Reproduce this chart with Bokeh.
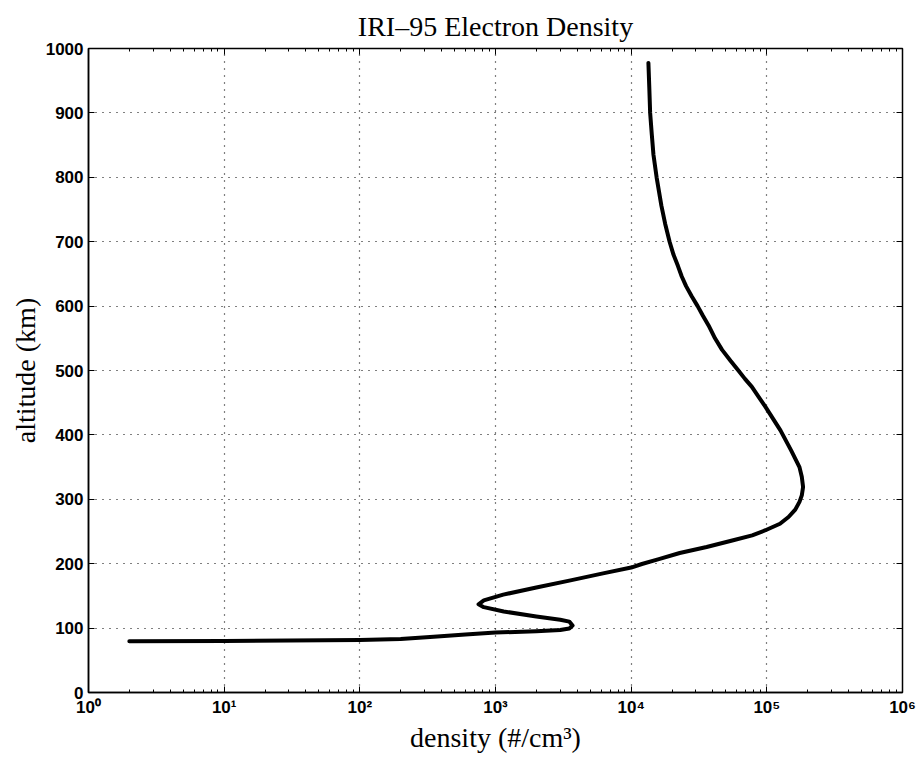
from bokeh.plotting import figure
from bokeh.models import LogAxis, LinearAxis, FixedTicker, Range1d, CustomJSTickFormatter, LogTicker
from bokeh.embed import file_html
from bokeh.resources import INLINE

title_text = "IRI\u201395 Electron Density"
x_label = "density (#/cm\u00b3)"
y_label = "altitude (km)"

density = [2, 10, 100, 200, 350, 600, 1000, 2000, 3000, 3500, 3700, 3500, 3000, 2000,
           1150, 820, 750, 820, 1140, 2000, 3500, 6200, 10000, 12000, 16000, 22800,
           36000, 55600, 78000, 97700, 125000, 144500, 162000, 174000, 181000, 185000,
           181000, 174000, 151000, 126000, 97700, 87000, 77600, 69000, 61700, 54000,
           46800, 41500, 37200, 33800, 30900, 28000, 25400, 23600, 22100, 20500, 19200,
           17800, 16700, 15400, 14600, 14200, 13800, 13600, 13400]
altitude = [79.5, 80, 81.5, 83, 86.5, 90, 93, 95.3, 97, 99.5, 104, 110, 113, 118,
            125.8, 132.5, 137, 143, 152, 163, 173.7, 185, 194, 199.5, 207, 216.6,
            226, 236, 244, 252, 262, 272.5, 284, 296, 306, 319,
            335, 350, 376, 407, 443.5, 459, 474.6, 487, 500, 515,
            532, 550, 570, 585, 600, 615, 631, 646, 662.5, 680, 700,
            728, 756, 800, 835, 866, 900, 940, 977.6]

x_ticks = [1, 10, 100, 1000, 10000, 100000, 1000000]
y_ticks = [0, 100, 200, 300, 400, 500, 600, 700, 800, 900, 1000]

p = figure(width=919, height=757, x_axis_type="log",
           x_range=Range1d(1, 1e6), y_range=Range1d(0, 1000),
           output_backend="svg", toolbar_location=None,
           min_border_left=88, min_border_right=17, min_border_top=48, min_border_bottom=65)

p.title.text = title_text
p.title.align = "center"
p.title.vertical_align = "top"
p.title.text_font = "Liberation Serif"
p.title.text_font_size = "28px"
p.title.text_font_style = "normal"
p.title.text_color = "black"
p.title.standoff = 10

p.background_fill_color = "white"
p.border_fill_color = "white"
p.outline_line_color = "black"
p.outline_line_width = 1.5

sup = CustomJSTickFormatter(code="""
const s = ['\u2070','\u00b9','\u00b2','\u00b3','\u2074','\u2075','\u2076','\u2077','\u2078','\u2079'];
const e = Math.round(Math.log10(tick));
return '10' + s[e];
""")

xa = p.xaxis[0]
xa.ticker = LogTicker(num_minor_ticks=10)
xa.formatter = sup
xa.axis_label = x_label
ya = p.yaxis[0]
ya.ticker = FixedTicker(ticks=y_ticks)
ya.axis_label = y_label

for ax in (xa, ya):
    ax.axis_label_text_font = "Liberation Serif"
    ax.axis_label_text_font_size = "28px"
    ax.axis_label_text_font_style = "normal"
    ax.axis_label_text_color = "black"
    ax.major_label_text_font = "Liberation Sans"
    ax.major_label_text_font_size = "17px"
    ax.major_label_text_font_style = "bold"
    ax.major_label_text_color = "black"
    ax.major_tick_in = 6
    ax.major_tick_out = 0
    ax.major_tick_line_color = "black"
    ax.axis_line_color = "black"
    ax.axis_line_width = 1.5
    ax.axis_label_standoff = 2
    ax.major_label_standoff = 5

xa.minor_tick_in = 3
xa.minor_tick_out = 0
ya.minor_tick_line_color = None

top = LogAxis(ticker=LogTicker(num_minor_ticks=10), major_label_text_font_size="1px",
              major_label_text_alpha=0, major_tick_in=6, major_tick_out=0,
              minor_tick_in=3, minor_tick_out=0, axis_line_color="black",
              major_label_standoff=0)
right = LinearAxis(ticker=FixedTicker(ticks=y_ticks), major_label_text_font_size="1px",
                   major_label_text_alpha=0, major_tick_in=6, major_tick_out=0,
                   minor_tick_line_color=None, axis_line_color="black",
                   major_label_standoff=0)
p.add_layout(top, "above")
p.add_layout(right, "right")

for g in (p.xgrid[0], p.ygrid[0]):
    g.grid_line_color = "black"
    g.grid_line_dash = "1 6"
    g.grid_line_width = 1.2
    g.grid_line_alpha = 1.0
p.xgrid[0].ticker = FixedTicker(ticks=x_ticks)
p.ygrid[0].ticker = FixedTicker(ticks=y_ticks)

p.line(density, altitude, line_color="black", line_width=4, line_join="round", line_cap="round")

open("out.html", "w").write(file_html(p, INLINE))
